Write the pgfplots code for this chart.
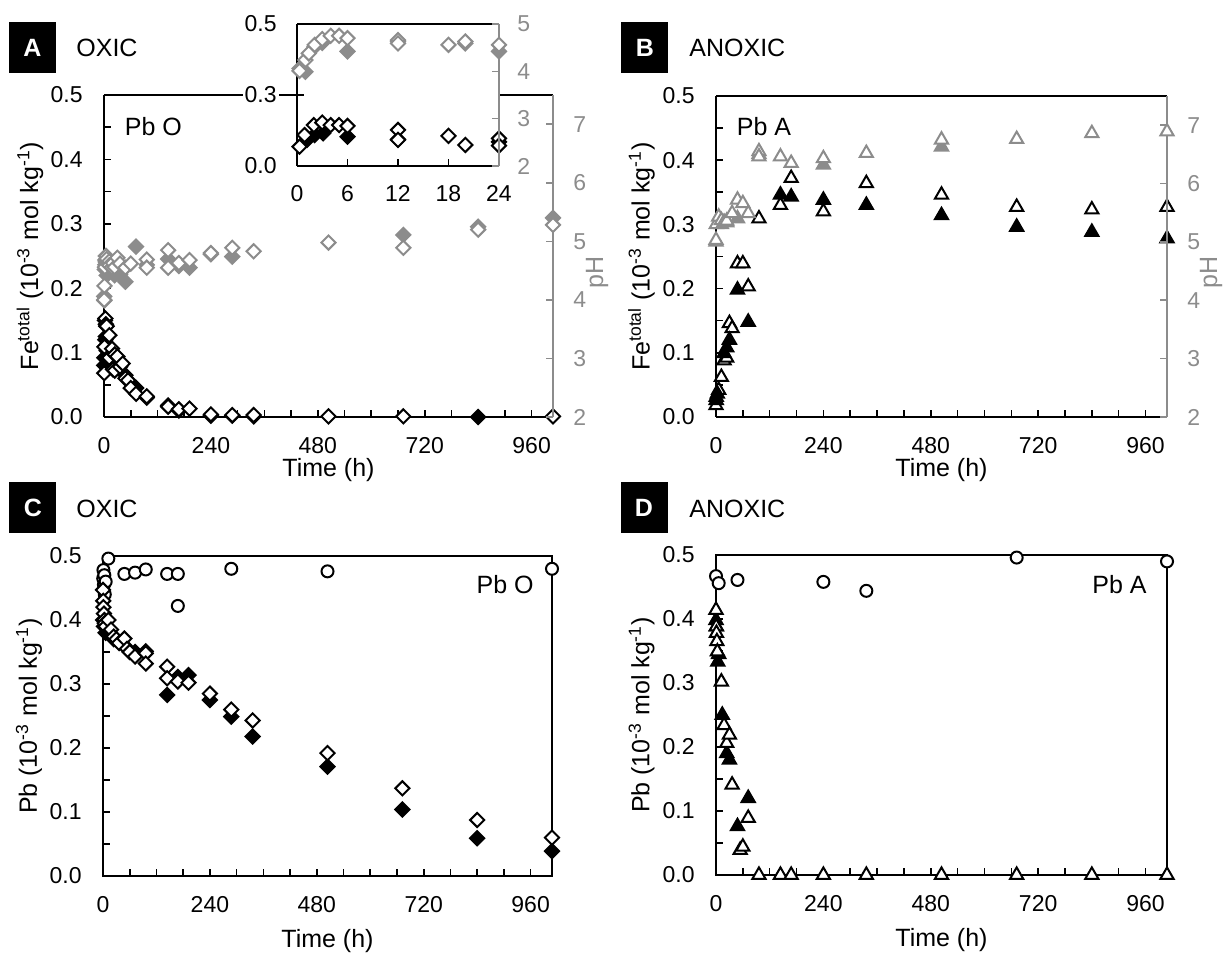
\documentclass[border=0pt]{standalone}
\usepackage{fontspec}
\setmainfont{Liberation Sans}
\usepackage{pgfplots}
\pgfplotsset{compat=1.18}
\definecolor{phgray}{RGB}{140,140,140}

\pgfplotsset{
  oD/.style={only marks, mark=square*, mark size=2.5pt, mark options={rotate=45, draw=black, fill=white, line width=1pt}},
  fD/.style={only marks, mark=square*, mark size=2.5pt, mark options={rotate=45, draw=black, fill=black, line width=1pt}},
  goD/.style={only marks, mark=square*, mark size=2.5pt, mark options={rotate=45, draw=phgray, fill=white, line width=1pt}},
  gfD/.style={only marks, mark=square*, mark size=2.5pt, mark options={rotate=45, draw=phgray, fill=phgray, line width=1pt}},
  oT/.style={only marks, mark=triangle*, mark size=3.8pt, mark options={draw=black, fill=white, line width=1pt}},
  fT/.style={only marks, mark=triangle*, mark size=3.8pt, mark options={draw=black, fill=black, line width=1pt}},
  goT/.style={only marks, mark=triangle*, mark size=3.8pt, mark options={draw=phgray, fill=white, line width=1pt}},
  gfT/.style={only marks, mark=triangle*, mark size=3.8pt, mark options={draw=phgray, fill=phgray, line width=1pt}},
  oC/.style={only marks, mark=*, mark size=3pt, mark options={draw=black, fill=white, line width=1pt}},
  common/.style={
    scale only axis, clip=false, anchor=south west,
    axis line style={line width=1pt},
    tick align=inside, major tick length=3.5pt, minor tick length=3.5pt,
    tick label style={font=\fontsize{11.5}{13}\selectfont},
  },
  panel/.style={
    common,
    xmin=0, xmax=1008, xtick={0,240,480,720,960}, minor x tick num=3, xtick pos=left,
    ymin=0, ymax=0.5, ytick={0,0.1,0.2,0.3,0.4,0.5}, minor y tick num=1, ytick pos=left,
    tick style={black, line width=0.8pt},
    yticklabel style={inner sep=1pt, xshift=-9.5pt, /pgf/number format/.cd, fixed, fixed zerofill, precision=1, assume math mode=true},
    xticklabel style={inner sep=1pt, yshift=-9pt, /pgf/number format/assume math mode=true},
    xlabel={Time (h)},
    every axis x label/.style={at={(axis description cs:0.5,-0.1863)}, anchor=base, inner sep=0pt, font=\fontsize{12.5}{15}\selectfont},
    every axis y label/.style={at={(axis description cs:-0.165,0.5)}, anchor=center, rotate=90, font=\fontsize{12.5}{15}\selectfont},
  },
  lower/.style={every axis x label/.append style={at={(axis description cs:0.5,-0.222)}}},
  phaxis/.style={
    common,
    xmin=0, xmax=1008, axis x line=none, axis y line*=right,
    ymin=2, ymax=7.5, ytick={2,3,4,5,6,7},
    y axis line style={phgray, line width=1pt},
    ytick style={phgray, line width=0.8pt},
    yticklabel style={phgray, inner sep=1pt, xshift=9pt, /pgf/number format/assume math mode=true},
    ylabel={pH},
    every axis y label/.style={at={(axis description cs:1.098,0.45)}, anchor=center, rotate=90, phgray, font=\fontsize{12.5}{15}\selectfont},
  },
}

\begin{document}
\begin{tikzpicture}
\useasboundingbox (0,0) rectangle (615.5pt,476.5pt);

% ---------------- A: oxic, Fe and pH
\begin{axis}[panel, at={(52pt,268pt)}, width=224.5pt, height=161pt,
  axis y line*=left,
  ylabel={Fe\textsuperscript{total} (10\textsuperscript{-3} mol kg\textsuperscript{-1})}]
\addplot[fD] coordinates {(0.5,0.080)(1,0.092)(2,0.109)(3,0.120)(4,0.125)(6,0.103)(12,0.094)(24,0.092)(48,0.065)(72,0.045)(96,0.030)(144,0.018)(168,0.010)(240,0.002)(288,0.002)(336,0.001)(840,0.0)};
\addplot[oD] coordinates {(0.5,0.068)(1,0.109)(2,0.150)(3,0.153)(4,0.144)(5,0.141)(6,0.141)(12,0.127)(12,0.092)(18,0.106)(20,0.074)(24,0.097)(24,0.072)(30,0.094)(36,0.078)(42,0.083)(48,0.060)(54,0.057)(60,0.045)(72,0.036)(96,0.032)(144,0.016)(168,0.012)(192,0.013)(240,0.004)(288,0.003)(336,0.003)(504,0.001)(672,0.001)(1008,0.001)};
\end{axis}
\begin{axis}[phaxis, at={(52pt,268pt)}, width=224.5pt, height=161pt]
\addplot[gfD] coordinates {(0.5,4.06)(1,3.99)(2,4.52)(3,4.60)(4,4.65)(6,4.42)(12,4.63)(20,4.59)(24,4.42)(36,4.43)(48,4.31)(72,4.91)(96,4.60)(144,4.70)(168,4.58)(192,4.55)(240,4.78)(288,4.74)(672,5.11)(840,5.25)(1008,5.40)};
\addplot[goD] coordinates {(0.5,4.00)(1,4.24)(2,4.56)(3,4.68)(4,4.75)(5,4.75)(6,4.70)(12,4.66)(12,4.59)(18,4.56)(20,4.63)(24,4.56)(30,4.72)(36,4.62)(48,4.55)(60,4.62)(96,4.69)(96,4.55)(144,4.85)(144,4.55)(168,4.63)(192,4.68)(240,4.80)(288,4.89)(336,4.83)(504,4.98)(672,4.89)(840,5.20)(1008,5.28)};
\end{axis}

% inset of A, first 24 h
\begin{axis}[common, at={(148.5pt,393.5pt)}, width=101pt, height=71pt,
  axis background/.style={fill=white},
  axis y line*=left,
  xmin=0, xmax=24, xtick={0,6,12,18,24}, xtick pos=left,
  ymin=0, ymax=0.5, ytick={0,0.25,0.5}, yticklabels={0.0,0.3,0.5}, ytick pos=left,
  tick style={black, line width=0.8pt},
  yticklabel style={fill=white, inner sep=1pt, xshift=-9pt},
  xticklabel style={inner sep=1pt, yshift=-8.5pt, /pgf/number format/assume math mode=true}]
\addplot[fD] coordinates {(1.2,0.092)(2.1,0.109)(3.1,0.115)(6,0.103)(12,0.094)(24,0.085)};
\addplot[oD] coordinates {(0.3,0.068)(0.9,0.109)(2,0.144)(3,0.153)(4,0.144)(5,0.144)(6,0.141)(12,0.127)(12,0.092)(18,0.106)(20,0.074)(24,0.097)(24,0.072)};
\end{axis}
\begin{axis}[common, at={(148.5pt,393.5pt)}, width=101pt, height=71pt,
  axis x line=none, axis y line*=right,
  xmin=0, xmax=24, ymin=2, ymax=5, ytick={2,3,4,5},
  y axis line style={phgray, line width=1pt},
  ytick style={phgray, line width=0.8pt},
  yticklabel style={phgray, inner sep=1pt, xshift=8pt, /pgf/number format/assume math mode=true}]
\addplot[gfD] coordinates {(0.3,4.06)(1,3.99)(2.1,4.52)(3,4.60)(6,4.42)(12,4.63)(20,4.59)(24,4.42)};
\addplot[goD] coordinates {(0.3,4.01)(1,4.24)(1.4,4.38)(2.1,4.56)(3,4.68)(4,4.75)(5,4.75)(6,4.70)(12,4.66)(12,4.59)(18,4.56)(20,4.63)(24,4.56)};
\end{axis}

% ---------------- B: anoxic, Fe and pH
\begin{axis}[panel, at={(358pt,268pt)}, width=225.5pt, height=160.5pt,
  axis y line*=left,
  ylabel={Fe\textsuperscript{total} (10\textsuperscript{-3} mol kg\textsuperscript{-1})}]
\addplot[oT] coordinates {(0,0.018)(0.5,0.031)(6,0.042)(12,0.062)(18,0.088)(24,0.092)(30,0.146)(36,0.138)(48,0.239)(60,0.239)(72,0.203)(96,0.309)(144,0.330)(168,0.372)(240,0.320)(336,0.364)(504,0.346)(672,0.327)(840,0.323)(1008,0.327)};
\addplot[fT] coordinates {(0.5,0.026)(3,0.036)(18,0.099)(24,0.108)(30,0.120)(48,0.198)(72,0.148)(144,0.346)(168,0.343)(240,0.338)(336,0.330)(504,0.314)(672,0.296)(840,0.288)(1008,0.278)};
\end{axis}
\begin{axis}[phaxis, at={(358pt,268pt)}, width=225.5pt, height=160.5pt]
\addplot[gfT] coordinates {(0,5.00)(12,5.30)(24,5.33)(48,5.40)(96,6.50)(240,6.32)(504,6.63)};
\addplot[goT] coordinates {(0,5.03)(0.5,5.30)(6,5.43)(12,5.37)(18,5.34)(24,5.36)(36,5.49)(48,5.72)(60,5.66)(72,5.49)(96,6.55)(96,6.46)(144,6.46)(168,6.35)(240,6.43)(336,6.52)(504,6.75)(672,6.76)(840,6.86)(1008,6.89)};
\end{axis}

% ---------------- C: oxic, Pb
\begin{axis}[panel, lower, at={(51.5pt,38.5pt)}, width=224.5pt, height=160pt,
  ylabel={Pb (10\textsuperscript{-3} mol kg\textsuperscript{-1})}]
\addplot[oC] coordinates {(0.5,0.465)(1,0.478)(2,0.455)(3,0.470)(4,0.440)(6,0.460)(12,0.496)(48,0.472)(72,0.474)(96,0.479)(144,0.472)(168,0.472)(168,0.422)(288,0.480)(504,0.476)(1008,0.480)};
\addplot[fD] coordinates {(0.5,0.400)(2,0.390)(6,0.380)(12,0.385)(24,0.370)(48,0.360)(72,0.350)(96,0.351)(144,0.283)(168,0.311)(192,0.314)(240,0.275)(288,0.249)(336,0.218)(504,0.171)(672,0.104)(840,0.059)(1008,0.039)};
\addplot[oD] coordinates {(0,0.447)(0.5,0.430)(1,0.420)(2,0.410)(3,0.400)(4,0.395)(6,0.390)(12,0.400)(18,0.385)(24,0.374)(30,0.370)(36,0.364)(48,0.371)(54,0.355)(60,0.350)(72,0.343)(96,0.348)(96,0.332)(144,0.327)(144,0.309)(168,0.304)(192,0.302)(240,0.285)(288,0.260)(336,0.243)(504,0.192)(672,0.137)(840,0.0875)(1008,0.060)};
\end{axis}

% ---------------- D: anoxic, Pb
\begin{axis}[panel, lower, at={(358pt,39pt)}, width=225.5pt, height=160pt,
  ylabel={Pb (10\textsuperscript{-3} mol kg\textsuperscript{-1})}]
\addplot[oC] coordinates {(0,0.467)(6,0.456)(48,0.461)(240,0.458)(336,0.444)(672,0.496)(1008,0.490)};
\addplot[fT] coordinates {(0,0.398)(1,0.388)(4,0.333)(6,0.345)(14,0.250)(24,0.190)(30,0.180)(48,0.076)(72,0.120)};
\addplot[oT] coordinates {(0,0.414)(0.5,0.388)(1,0.378)(2,0.365)(3,0.349)(12,0.302)(18,0.234)(24,0.206)(30,0.219)(36,0.141)(54,0.039)(60,0.044)(72,0.089)(96,0)(144,0)(168,0)(240,0)(336,0)(504,0)(672,0)(840,0)(1008,0)};
\end{axis}

% panel letters, titles and sample names
\tikzset{letter/.style={fill=black, text=white, minimum width=23.5pt, minimum height=25.5pt, inner sep=0pt, font=\bfseries\fontsize{12.5}{14}\selectfont}}
\node[letter] at (16.25pt,452.75pt) {A};
\node[letter] at (322.4pt,452.75pt) {B};
\node[letter] at (16.4pt,222.5pt) {C};
\node[letter] at (322pt,222.5pt) {D};
\tikzset{ttl/.style={anchor=base west, inner sep=0pt, font=\fontsize{12.5}{14}\selectfont}}
\node[ttl] at (38pt,448pt) {OXIC};
\node[ttl] at (344.5pt,448pt) {ANOXIC};
\node[ttl] at (38pt,217.5pt) {OXIC};
\node[ttl] at (344.5pt,217.5pt) {ANOXIC};
\node[ttl] at (62.25pt,408.5pt) {Pb O};
\node[ttl] at (368.25pt,408.5pt) {Pb A};
\node[ttl, anchor=base east] at (267pt,179.5pt) {Pb O};
\node[ttl, anchor=base east] at (573.5pt,179.5pt) {Pb A};
\end{tikzpicture}
\end{document}
